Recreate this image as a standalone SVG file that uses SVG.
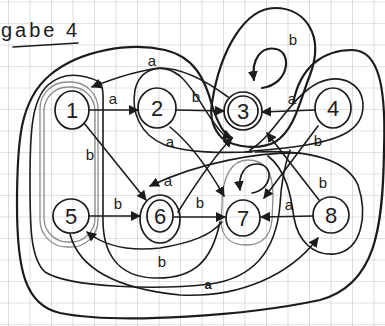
<svg xmlns="http://www.w3.org/2000/svg" width="385" height="326" viewBox="0 0 385 326">
<style>
.ink{fill:none;stroke:#1c1c1c;stroke-width:1.6;stroke-linecap:round;stroke-linejoin:round}
.thick{stroke-width:2.2}
.gray{fill:none;stroke:#8c8c8c;stroke-width:1.3}
.node{fill:none;stroke:#1c1c1c;stroke-width:1.7}
.num{font-family:"Liberation Sans",Arial,sans-serif;font-size:22px;fill:#1c1c1c;text-anchor:middle}
.lbl{font-family:"Liberation Sans",Arial,sans-serif;font-size:15px;fill:#1c1c1c;text-anchor:middle}
.title{font-family:"Liberation Sans",Arial,sans-serif;font-size:20px;fill:#1c1c1c;letter-spacing:3px}
</style>
<defs>
<pattern id="grid" x="8" y="1.5" width="21.5" height="21.5" patternUnits="userSpaceOnUse">
<path d="M0,0 H21.5 M0,0 V21.5" stroke="#c6c6c6" stroke-width="1.2" fill="none"/>
</pattern>
<marker id="arr" markerUnits="userSpaceOnUse" markerWidth="11" markerHeight="10" refX="9" refY="5" orient="auto">
<path d="M0,0 L10,5 L0,10 z" fill="#1c1c1c"/>
</marker>
</defs>
<rect width="385" height="326" fill="#ffffff"/>
<rect width="385" height="326" fill="url(#grid)"/>
<g id="title">
<text class="title" x="1" y="37">gabe 4</text>
<path class="ink" d="M13,47 L78,43"/>
</g>
<g id="groups">
<rect class="gray" x="40" y="82" width="58" height="165" rx="27"/>
<rect class="gray" x="44" y="87" width="51" height="155" rx="24" stroke="#aaaaaa"/>
<path class="gray" d="M222,205 C222,176 232,160 248,160 C265,160 273,172 273,195 L272,220 C270,240 258,245 246,245 C232,245 222,238 221,222 Z"/>
<path class="ink thick" d="M212,103 C220,50 245,8 275,8 C305,8 325,35 310,75 C300,100 295,130 275,142 C260,150 235,148 222,138 C212,128 210,115 212,103 Z"/>
</g>
<g id="connectors">
<path class="ink thick" d="M293,104 C300,65 325,50 352,50 C380,50 386,90 384,150 C383,230 375,285 320,300 C250,315 120,325 60,313 C25,305 17,270 17,205 C17,140 20,100 50,75 C80,50 130,42 165,50 C195,57 205,80 212,105 C218,125 225,135 232,138" marker-end="url(#arr)"/>
<path class="ink" d="M290,150 C283,170 281,185 280,205 C276,250 255,278 210,284 C160,290 70,288 45,272 C30,258 30,225 30,180 C30,130 32,100 48,85 C65,70 85,75 100,82 C104,88 103,100 103,115 L103,220 C103,250 115,277 155,278 C195,279 212,260 220,222"/>
<path class="ink" d="M89,110 L138,110" marker-end="url(#arr)"/>
<path class="ink" d="M176,110 L224,111" marker-end="url(#arr)"/>
<path class="ink" d="M315,110 L262,112" marker-end="url(#arr)"/>
<path class="ink" d="M84,123 L146,200" marker-end="url(#arr)"/>
<path class="ink" d="M89,216 L140,216" marker-end="url(#arr)"/>
<path class="ink" d="M174,217 L225,217" marker-end="url(#arr)"/>
<path class="ink" d="M313,216 L261,217" marker-end="url(#arr)"/>
<path class="ink" d="M170,127 Q198,150 224,196" marker-end="url(#arr)"/>
<path class="ink" d="M318,126 L264,198" marker-end="url(#arr)"/>
<path class="ink" d="M319,200 L267,133" marker-end="url(#arr)"/>
<path class="ink" d="M178,212 C195,185 215,155 232,138" marker-end="url(#arr)"/>
<path class="ink" d="M300,153 C260,152 200,162 150,186" marker-end="url(#arr)"/>
<path class="ink" d="M228,97 C205,80 180,68 160,68 C140,70 115,78 92,87" marker-end="url(#arr)"/>
<path class="ink thick" d="M262,88 C290,84 292,52 276,49 C262,46 251,58 254,80" marker-end="url(#arr)"/>
<path class="ink" d="M252,193 C272,190 275,165 258,164 C245,163 238,175 240,190" marker-end="url(#arr)"/>
<path class="ink" d="M222,222 C210,236 190,243 160,248 C125,252 102,244 87,232" marker-end="url(#arr)"/>
<path class="ink" d="M70,234 C78,265 110,288 180,295 C240,298 290,275 318,238" marker-end="url(#arr)"/>
<path class="ink" d="M225,136 C208,120 198,92 180,76 C162,62 140,68 135,90 C131,112 140,135 165,145 C190,153 220,153 252,152"/>
<path class="ink" d="M250,150 C275,135 290,97 318,83 C343,72 363,85 363,106 C363,130 340,140 300,146 C280,149 262,150 245,152"/>
<path class="ink" d="M255,152 C300,150 345,156 358,185 C368,215 362,250 335,254 C312,256 298,240 294,218 C291,195 286,170 268,156"/>
<text class="lbl" x="113" y="104">a</text>
<text class="lbl" x="196" y="102">b</text>
<text class="lbl" x="292" y="104">a</text>
<text class="lbl" x="90" y="160">b</text>
<text class="lbl" x="118" y="209">b</text>
<text class="lbl" x="200" y="208">b</text>
<text class="lbl" x="289" y="210">a</text>
<text class="lbl" x="323" y="188">b</text>
<text class="lbl" x="318" y="146">b</text>
<text class="lbl" x="168" y="186">a</text>
<text class="lbl" x="170" y="147">a</text>
<text class="lbl" x="152" y="66">a</text>
<text class="lbl" x="293" y="45">b</text>
<text class="lbl" x="162" y="267">b</text>
<text class="lbl" x="208" y="289" style="font-size:13px;font-weight:bold">a</text>
</g>
<g id="node1"><ellipse class="node" cx="72" cy="110" rx="17" ry="19"/><text class="num" x="72" y="118">1</text></g>
<g id="node2"><ellipse class="node" cx="157" cy="108" rx="19" ry="20"/><text class="num" x="157" y="116">2</text></g>
<g id="node3"><circle class="node" cx="243" cy="111" r="15"/><ellipse class="node" cx="243" cy="111" rx="19" ry="19"/><text class="num" x="243" y="119">3</text></g>
<g id="node4"><ellipse class="node" cx="333" cy="108" rx="18" ry="20"/><text class="num" x="333" y="116">4</text></g>
<g id="node5"><ellipse class="node" cx="71" cy="216" rx="18" ry="17"/><text class="num" x="71" y="224">5</text></g>
<g id="node6"><ellipse class="node" cx="160" cy="216" rx="13" ry="16"/><ellipse class="node" cx="160" cy="219" rx="20" ry="24"/><text class="num" x="160" y="224">6</text></g>
<g id="node7"><ellipse class="node" cx="243" cy="218" rx="17" ry="18"/><text class="num" x="243" y="226">7</text></g>
<g id="node8"><ellipse class="node" cx="331" cy="215" rx="18" ry="18"/><text class="num" x="331" y="223">8</text></g>
</svg>
